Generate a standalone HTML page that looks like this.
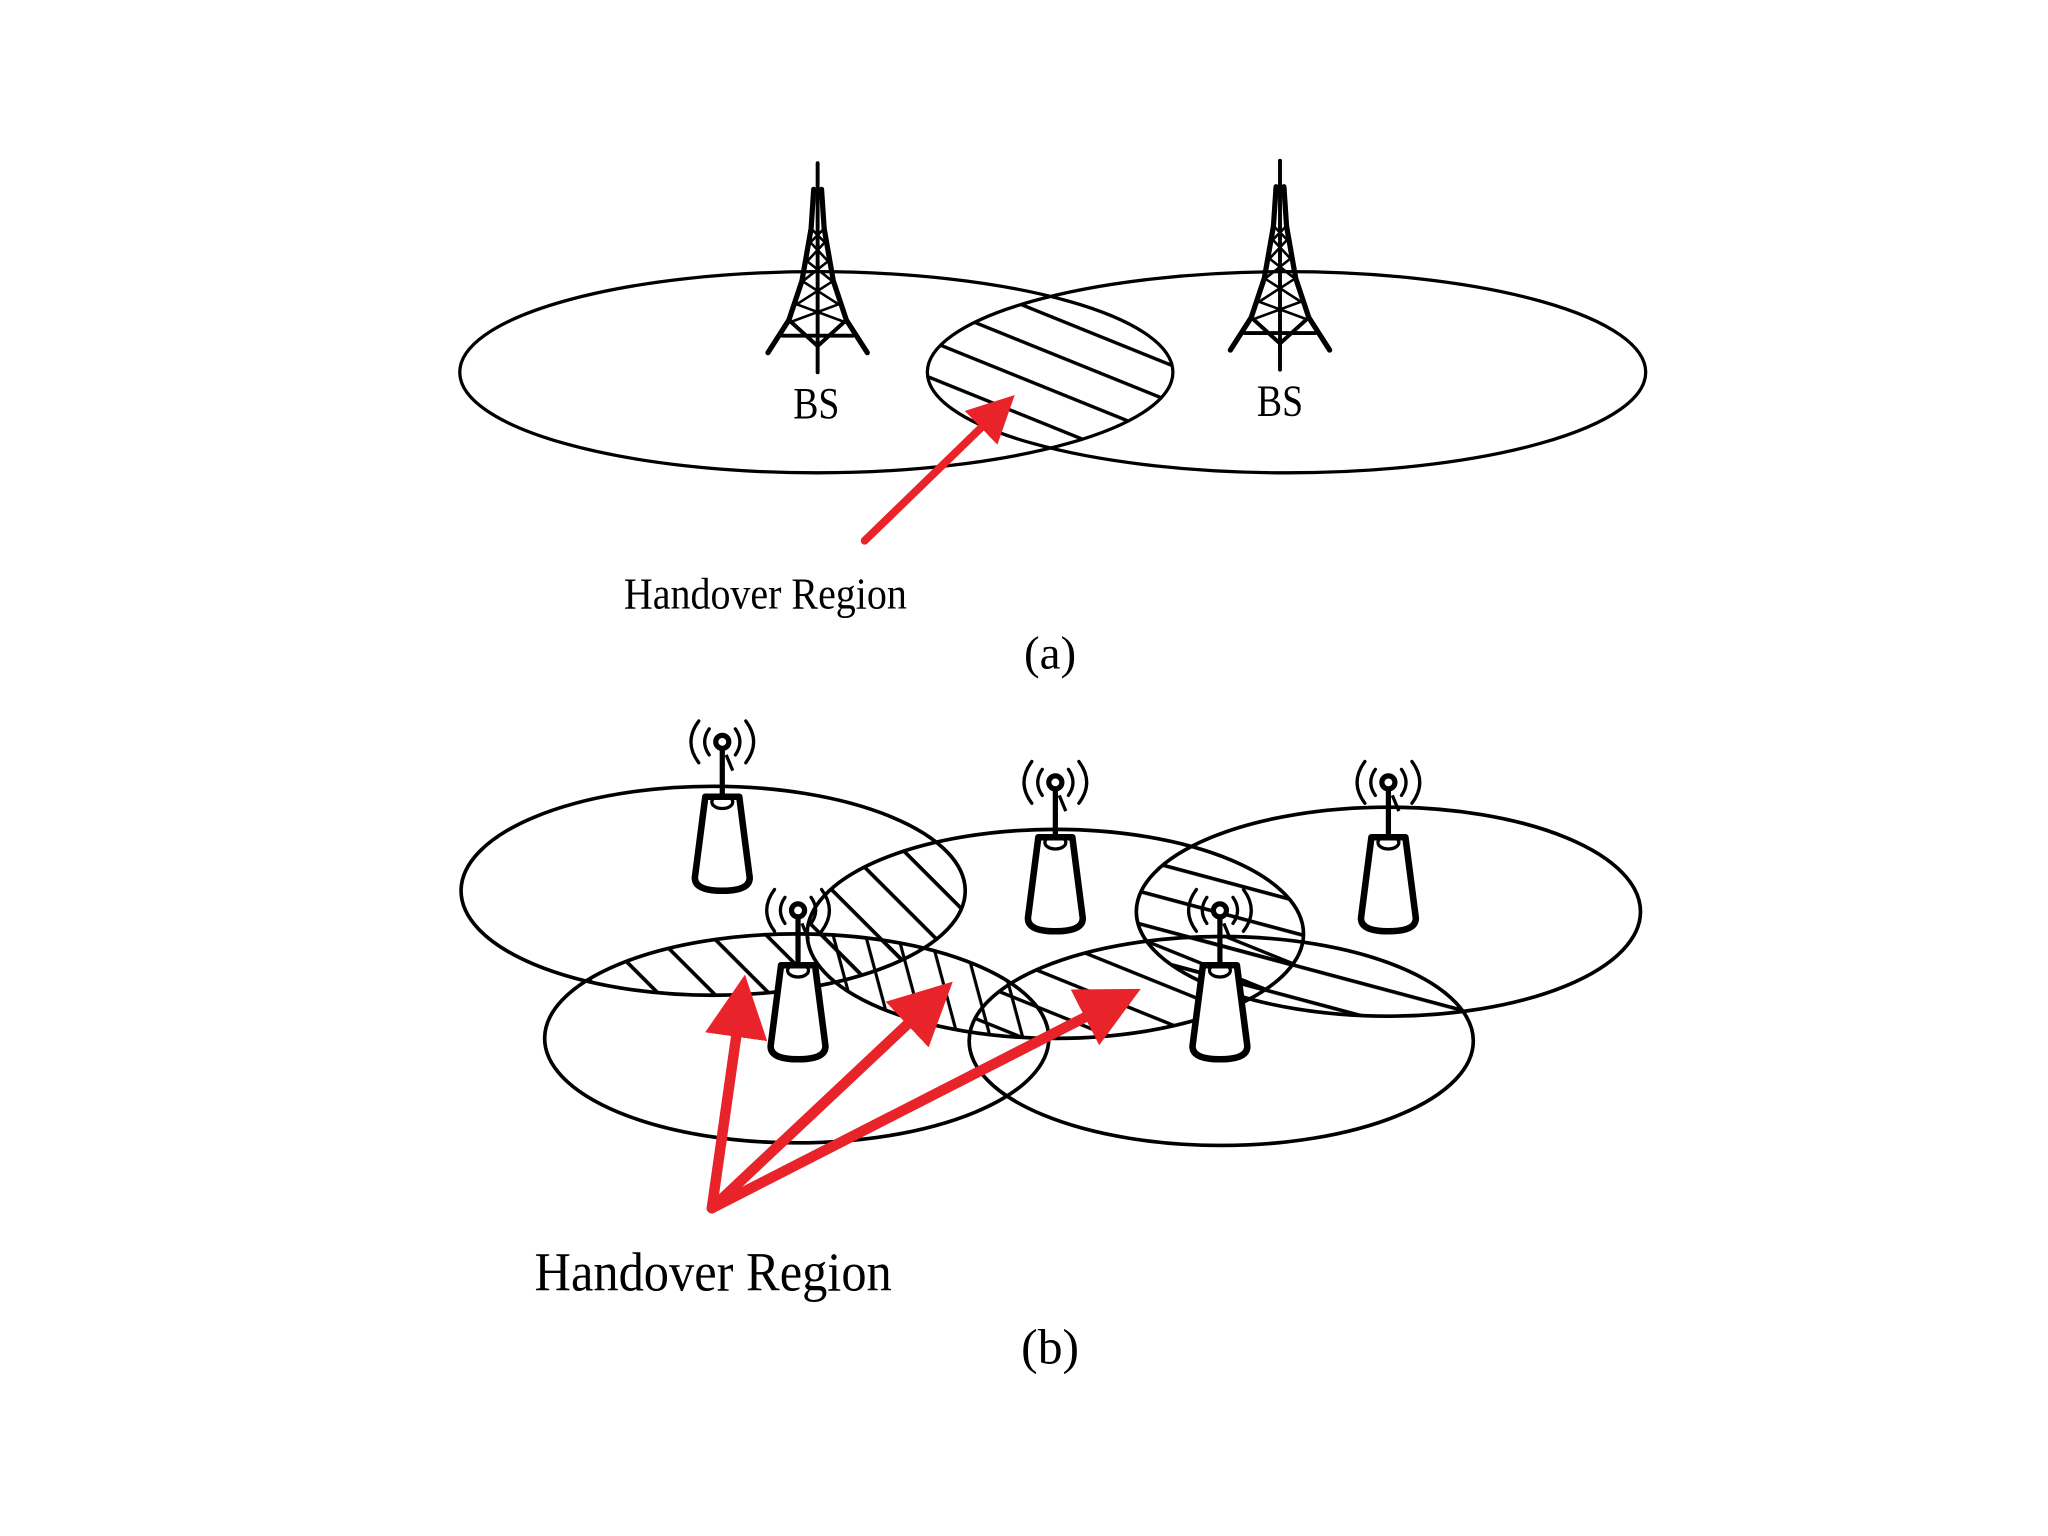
<!DOCTYPE html>
<html><head><style>html,body{margin:0;padding:0;background:#fff}svg{display:block}</style></head>
<body>
<svg width="2048" height="1536" viewBox="0 0 1568 1176" xmlns="http://www.w3.org/2000/svg">
<defs>
<symbol id="ant" overflow="visible">
  <path d="M-13,0 L13,0 L21,62 Q21,72 0,72 Q-21,72 -21,62 Z" fill="#fff" stroke="#000" stroke-width="5" stroke-linejoin="round"/>
  <ellipse cx="0" cy="4" rx="8" ry="5" fill="none" stroke="#000" stroke-width="2.5"/>
  <line x1="0" y1="0" x2="0" y2="-40" stroke="#000" stroke-width="4"/>
  <line x1="3" y1="-32" x2="8" y2="-20" stroke="#000" stroke-width="2.5"/>
  <circle cx="0" cy="-42" r="5" fill="#fff" stroke="#000" stroke-width="4"/>
  <g fill="none" stroke="#000" stroke-width="2.5" stroke-linecap="round">
    <path d="M-10,-52 Q-17,-42 -10,-32"/><path d="M10,-52 Q17,-42 10,-32"/>
    <path d="M-18,-58 Q-30,-42 -18,-26"/><path d="M18,-58 Q30,-42 18,-26"/>
  </g>
</symbol>
<symbol id="tower" overflow="visible">
  <g stroke="#000" fill="none" stroke-linecap="round">
    <line x1="0" y1="0" x2="0" y2="160" stroke-width="3"/>
    <path d="M-3,20 L-5,50 L-12,90 L-22,120 L-38,145" stroke-width="4"/>
    <path d="M3,20 L5,50 L12,90 L22,120 L38,145" stroke-width="4"/>
    <path d="M-5,50 L5,60 M5,50 L-5,60 M-6,60 L8,75 M6,60 L-8,75 M-8,75 L11,90 M8,75 L-11,90 M-12,90 L16,108 M12,90 L-16,108 M-16,108 L22,122 M16,108 L-22,122" stroke-width="2"/>
    <path d="M-22,120 L0,140 L22,120 M-27,132 L27,132" stroke-width="3"/>
  </g>
</symbol>
<pattern id="h1" width="26" height="26" patternUnits="userSpaceOnUse" patternTransform="rotate(22)"><rect x="0" y="0" width="26" height="2.6" fill="#000"/></pattern>
<pattern id="h2" width="30" height="30" patternUnits="userSpaceOnUse" patternTransform="rotate(45)"><rect x="0" y="0" width="30" height="2.8" fill="#000"/></pattern>
<pattern id="h3" width="24" height="24" patternUnits="userSpaceOnUse" patternTransform="rotate(15)"><rect x="0" y="0" width="24" height="2.8" fill="#000"/></pattern>
<pattern id="h4" width="24" height="24" patternUnits="userSpaceOnUse" patternTransform="rotate(75)"><rect x="0" y="0" width="24" height="2.4" fill="#000"/></pattern>
<clipPath id="cE1"><ellipse cx="546" cy="682" rx="193" ry="80"/></clipPath>
<clipPath id="cE2"><ellipse cx="808" cy="715" rx="190" ry="80"/></clipPath>
<clipPath id="cE3"><ellipse cx="1063" cy="698" rx="193" ry="80"/></clipPath>
<clipPath id="cE4"><ellipse cx="610" cy="795" rx="193" ry="80"/></clipPath>
<clipPath id="cE5"><ellipse cx="935" cy="797" rx="193" ry="80"/></clipPath>
<clipPath id="cAL"><ellipse cx="625" cy="285" rx="273" ry="77"/></clipPath>
<clipPath id="cAR"><ellipse cx="985" cy="285" rx="275" ry="77"/></clipPath>
<marker id="ah" markerWidth="6" markerHeight="6" refX="3" refY="3" orient="auto" markerUnits="strokeWidth"><path d="M0,0 L6,3 L0,6 Z" fill="#e8232a"/></marker>
</defs>
<rect width="1568" height="1176" fill="#fff"/>

<!-- (a) -->
<g clip-path="url(#cAL)"><rect x="690" y="200" width="230" height="170" fill="url(#h1)" clip-path="url(#cAR)"/></g>
<g fill="none" stroke="#000" stroke-width="2.5">
<ellipse cx="625" cy="285" rx="273" ry="77"/>
<ellipse cx="985" cy="285" rx="275" ry="77"/>
</g>
<use href="#tower" x="626" y="125"/>
<use href="#tower" x="980" y="123"/>
<g font-family="'Liberation Serif',serif" text-anchor="middle" fill="#000">
<text x="625" y="320" font-size="34" transform="translate(625 0) scale(0.85 1) translate(-625 0)">BS</text>
<text x="980" y="318" font-size="34" transform="translate(980 0) scale(0.85 1) translate(-980 0)">BS</text>
<text x="586" y="466" font-size="34" transform="translate(586 0) scale(0.9 1) translate(-586 0)">Handover Region</text>
<text x="804" y="512" font-size="36">(a)</text>
</g>
<line x1="662" y1="414" x2="764" y2="315" stroke="#e8232a" stroke-width="6" stroke-linecap="round" marker-end="url(#ah)"/>

<!-- (b) hatch regions -->
<g clip-path="url(#cE1)"><rect x="300" y="550" width="900" height="400" fill="url(#h2)" clip-path="url(#cE2)"/></g>
<g clip-path="url(#cE1)"><rect x="300" y="550" width="900" height="400" fill="url(#h2)" clip-path="url(#cE4)"/></g>
<g clip-path="url(#cE2)"><rect x="300" y="550" width="900" height="400" fill="url(#h4)" clip-path="url(#cE4)"/></g>
<g clip-path="url(#cE2)"><rect x="300" y="550" width="900" height="400" fill="url(#h1)" clip-path="url(#cE5)"/></g>
<g clip-path="url(#cE2)"><rect x="300" y="550" width="900" height="400" fill="url(#h3)" clip-path="url(#cE3)"/></g>
<g clip-path="url(#cE3)"><rect x="300" y="550" width="900" height="400" fill="url(#h3)" clip-path="url(#cE5)"/></g>
<g fill="none" stroke="#000" stroke-width="2.8">
<ellipse cx="546" cy="682" rx="193" ry="80"/>
<ellipse cx="808" cy="715" rx="190" ry="80"/>
<ellipse cx="1063" cy="698" rx="193" ry="80"/>
<ellipse cx="610" cy="795" rx="193" ry="80"/>
<ellipse cx="935" cy="797" rx="193" ry="80"/>
</g>
<use href="#ant" x="553" y="610"/>
<use href="#ant" x="808" y="641"/>
<use href="#ant" x="1063" y="641"/>
<use href="#ant" x="611" y="739"/>
<use href="#ant" x="934" y="739"/>
<g stroke="#e8232a" stroke-width="8" stroke-linecap="round" fill="none" marker-end="url(#ah)">
<line x1="545" y1="925" x2="567" y2="770"/>
<line x1="545" y1="925" x2="712" y2="768"/>
<line x1="545" y1="925" x2="852" y2="768"/>
</g>
<g font-family="'Liberation Serif',serif" text-anchor="middle" fill="#000">
<text x="546" y="988" font-size="42" transform="translate(546 0) scale(0.92 1) translate(-546 0)">Handover Region</text>
<text x="804" y="1044" font-size="38">(b)</text>
</g>
</svg>
</body></html>
